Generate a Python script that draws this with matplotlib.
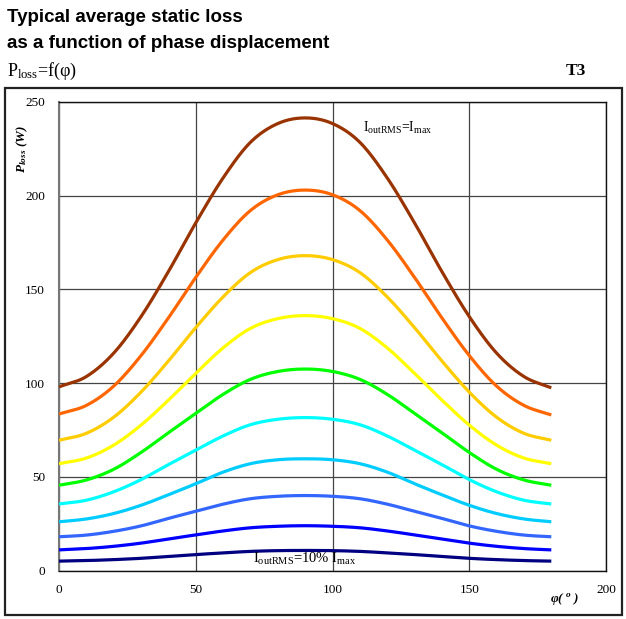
import numpy as np
import matplotlib
matplotlib.use('Agg')
import matplotlib.pyplot as plt
from matplotlib.patches import Rectangle

plt.rcParams['mathtext.fontset'] = 'custom'
plt.rcParams['mathtext.rm'] = 'Liberation Serif'
plt.rcParams['mathtext.it'] = 'Liberation Serif:italic'
plt.rcParams['mathtext.bf'] = 'Liberation Serif:bold:italic'

# phase displacement (deg)
phi = [0, 10, 20, 30, 40, 50, 60, 70, 80, 90,
       100, 110, 120, 130, 140, 150, 160, 170, 180]

# loss curves (W), from I_outRMS = I_max down to 10% I_max
p100 = [98, 103.5, 116, 135.5, 159.5, 185.5, 209.5, 228.5, 238.5, 241.5,
        238.5, 228.5, 209.5, 185.5, 159.5, 135.5, 116, 103.5, 97.5]
p90 = [83.5, 88.1, 98.4, 114.7, 134.8, 156.4, 176.4, 192.1, 200.5, 203,
       200.5, 192.1, 176.4, 156.4, 134.8, 114.7, 98.4, 88.1, 83]
p80 = [69.5, 73.2, 81.8, 95.2, 111.8, 129.6, 146, 159, 165.9, 168,
       165.9, 159, 146, 129.6, 111.8, 95.2, 81.8, 73.2, 69.5]
p70 = [57, 60, 66.9, 77.6, 90.9, 105.2, 118.8, 129.2, 134.4, 136,
       134.4, 129.2, 118.8, 105.2, 90.9, 77.6, 66.9, 60, 57]
p60 = [45.5, 48.3, 54, 63, 73.5, 83.8, 94, 102, 106.2, 107.5,
       106.2, 102, 94, 83.8, 73.5, 63, 54, 48.3, 45.5]
p50 = [35.5, 37.5, 42, 48.5, 56.5, 64.2, 71.8, 77.8, 80.7, 81.6,
       80.7, 77.8, 71.8, 64.2, 56.5, 48.5, 42, 37.5, 35.5]
p40 = [26, 27.5, 30.4, 34.8, 40.4, 46.3, 52.5, 57, 59.1, 59.6,
       59.1, 57, 52.5, 46.3, 40.4, 34.8, 30.4, 27.5, 26]
p30 = [18, 18.9, 20.9, 23.8, 27.8, 31.6, 35.4, 38.3, 39.6, 40,
       39.6, 38.3, 35.4, 31.6, 27.8, 23.8, 20.9, 18.9, 18]
p20 = [11, 11.7, 12.9, 14.6, 16.8, 19, 21.1, 22.8, 23.6, 23.9,
       23.6, 22.8, 21.1, 19, 16.8, 14.6, 12.9, 11.7, 11]
p10 = [5, 5.3, 5.8, 6.5, 7.5, 8.5, 9.4, 10.2, 10.6, 10.7,
       10.6, 10.2, 9.4, 8.5, 7.5, 6.5, 5.8, 5.3, 5]

series = [p100, p90, p80, p70, p60, p50, p40, p30, p20, p10]
colors = ['#993300', '#FF6600', '#FFCC00', '#FFFF00', '#00FF00',
          '#00FFFF', '#00CCFF', '#3366FF', '#0000FF', '#000080']


def smooth(x, y, n=20):
    # Catmull-Rom spline through the points (like a smoothed Excel line)
    x = np.asarray(x, float)
    y = np.asarray(y, float)
    px = np.concatenate([[2 * x[0] - x[1]], x, [2 * x[-1] - x[-2]]])
    py = np.concatenate([[2 * y[0] - y[1]], y, [2 * y[-1] - y[-2]]])
    t = np.linspace(0, 1, n, endpoint=False)
    xs, ys = [], []
    for i in range(1, len(px) - 2):
        for p, out in ((px, xs), (py, ys)):
            p0, p1, p2, p3 = p[i - 1], p[i], p[i + 1], p[i + 2]
            out.extend(0.5 * (2 * p1 + (-p0 + p2) * t
                              + (2 * p0 - 5 * p1 + 4 * p2 - p3) * t ** 2
                              + (-p0 + 3 * p1 - 3 * p2 + p3) * t ** 3))
    xs.append(x[-1])
    ys.append(y[-1])
    return np.array(xs), np.array(ys)


fig = plt.figure(figsize=(6.26, 6.19), dpi=100)

# outer frame
fig.patches.append(Rectangle((5 / 626, 4 / 619), 617 / 626, 527 / 619,
                             transform=fig.transFigure, fill=False,
                             edgecolor='#222222', linewidth=1.6))

fig.text(7 / 626, 1 - 17 / 619, 'Typical average static loss', fontsize=13.5,
         fontweight='bold', family='Liberation Sans', va='center')
fig.text(7 / 626, 1 - 44 / 619, 'as a function of phase displacement', fontsize=13.5,
         fontweight='bold', family='Liberation Sans', va='center')
fig.text(7 / 626, 1 - 71 / 619, r'P$_{\mathrm{loss}}$=f($\mathrm{\varphi}$)', fontsize=13,
         family='Liberation Serif', va='center')
fig.text(586 / 626, 1 - 71 / 619, 'T3', fontsize=12.5, fontweight='bold',
         family='Liberation Serif', va='center', ha='right')

ax = fig.add_axes([59 / 626, 48.5 / 619, 547 / 626, 468.5 / 619])

for vals, c in zip(series, colors):
    xs, ys = smooth(phi, vals)
    ax.plot(xs, ys, color=c, linewidth=2.3, solid_capstyle='butt', zorder=3)

ax.set_xlim(0, 200)
ax.set_ylim(0, 250)
ax.set_xticks([0, 50, 100, 150, 200])
ax.set_yticks([0, 50, 100, 150, 200, 250])
ax.grid(True, color='#444444', linewidth=0.9)
ax.tick_params(length=0, labelsize=9.5, pad=10)
for lab in ax.get_xticklabels() + ax.get_yticklabels():
    lab.set_family('Liberation Serif')
for s in ax.spines.values():
    s.set_linewidth(1.0)
    s.set_color('#111111')
ax.spines['left'].set_color('#777777')
ax.spines['left'].set_linewidth(1.5)

ax.text(-13.5, 225, r'$\mathbf{P_{loss}}$ (W)', rotation=90, fontsize=9.5,
        family='Liberation Serif', fontweight='bold', fontstyle='italic',
        ha='center', va='center')
ax.text(185, -15, r'$\mathbf{\varphi}$( $\mathbf{{}^{o}}$ )', fontsize=9.5,
        family='Liberation Serif', fontweight='bold', fontstyle='italic',
        ha='center', va='center', clip_on=False)

ax.text(111, 236, r'I$_{\mathrm{outRMS}}$=I$_{\mathrm{max}}$', fontsize=10,
        family='Liberation Serif', ha='left', va='center')
ax.text(71, 6, r'I$_{\mathrm{outRMS}}$=10% I$_{\mathrm{max}}$', fontsize=10.5,
        family='Liberation Serif', ha='left', va='center', zorder=4)

fig.savefig('out.png', dpi=100)
